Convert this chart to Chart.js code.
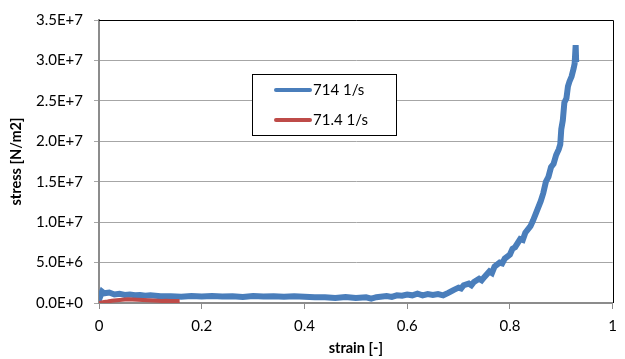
<!DOCTYPE html>
<html>
<head>
<meta charset="utf-8">
<script src="https://cdn.jsdelivr.net/npm/chart.js@4.4.0/dist/chart.umd.min.js"></script>
<style>
  html, body { margin: 0; padding: 0; background: #fff; }
  #wrap { width: 625px; height: 359px; position: relative; }
</style>
</head>
<body>
<div id="wrap"><canvas id="chart"></canvas></div>
<script>
// 714 1/s test
const strainFast = [0, 0.003, 0.006, 0.01, 0.02, 0.03, 0.04, 0.05, 0.06, 0.07, 0.08, 0.09, 0.10,
  0.12, 0.14, 0.16, 0.18, 0.20, 0.22, 0.24, 0.26, 0.28, 0.30, 0.32, 0.34, 0.36, 0.38, 0.40,
  0.42, 0.44, 0.46, 0.48, 0.50, 0.52, 0.53, 0.54, 0.56, 0.57, 0.58, 0.59, 0.60, 0.61, 0.62,
  0.63, 0.64, 0.65, 0.66, 0.67, 0.68, 0.69, 0.70, 0.705, 0.71, 0.72, 0.725, 0.73, 0.74, 0.745,
  0.75, 0.76, 0.765, 0.77, 0.78, 0.785, 0.79, 0.80, 0.805, 0.81, 0.82, 0.825, 0.83, 0.84,
  0.845, 0.85, 0.86, 0.865, 0.87, 0.875, 0.88, 0.885, 0.89, 0.895, 0.898, 0.90, 0.903, 0.906,
  0.91, 0.913, 0.916, 0.92, 0.924, 0.926, 0.928, 0.929];
const stressFast = [1.5e6, 0.9e6, 1.4e6, 1.2e6, 1.3e6, 1.05e6, 1.15e6, 1.0e6, 1.05e6, 0.95e6, 1.0e6, 0.9e6, 0.95e6,
  0.85e6, 0.85e6, 0.78e6, 0.85e6, 0.8e6, 0.85e6, 0.8e6, 0.82e6, 0.75e6, 0.85e6, 0.8e6, 0.82e6, 0.76e6, 0.82e6, 0.78e6,
  0.7e6, 0.72e6, 0.62e6, 0.75e6, 0.62e6, 0.7e6, 0.55e6, 0.72e6, 0.85e6, 0.75e6, 0.95e6, 0.9e6, 1.05e6, 0.95e6, 1.15e6,
  0.95e6, 1.1e6, 1.0e6, 1.1e6, 0.95e6, 1.25e6, 1.6e6, 1.9e6, 1.8e6, 2.2e6, 2.4e6, 2.2e6, 2.6e6, 3.0e6, 2.8e6,
  3.2e6, 3.9e6, 3.7e6, 4.5e6, 5.0e6, 4.9e6, 5.5e6, 6.0e6, 6.7e6, 6.9e6, 7.9e6, 7.8e6, 8.7e6, 9.5e6,
  10.2e6, 11.0e6, 12.6e6, 13.6e6, 15.0e6, 15.6e6, 16.8e6, 17.2e6, 18.3e6, 19.0e6, 19.6e6, 21.5e6, 22.6e6, 24.8e6,
  25.3e6, 26.8e6, 27.4e6, 28.0e6, 29.0e6, 29.6e6, 31.9e6, 29.8e6];

// 71.4 1/s test
const strainSlow = [0, 0.005, 0.01, 0.017, 0.025, 0.035, 0.045, 0.056, 0.065, 0.075, 0.085, 0.095, 0.105, 0.115, 0.122, 0.13, 0.14, 0.15, 0.157];
const stressSlow = [0.0, 0.08e6, 0.12e6, 0.18e6, 0.28e6, 0.35e6, 0.4e6, 0.45e6, 0.42e6, 0.4e6, 0.36e6, 0.33e6, 0.3e6, 0.28e6, 0.25e6, 0.27e6, 0.25e6, 0.24e6, 0.26e6];

const seriesLabels = ['714 1/s', '71.4 1/s'];
const seriesColors = ['#4a7ebb', '#be4b48'];

const xTicks = [0, 0.2, 0.4, 0.6, 0.8, 1];
const yMax = 3.5e7;
const yStep = 5e6;

const toPoints = (xs, ys) => xs.map((x, i) => ({ x: x, y: ys[i] }));

const FONT = 'Lato, "Open Sans", sans-serif';

// black frame on top/right + legend box inside the plot
const frameAndLegend = {
  id: 'frameAndLegend',
  beforeDatasetsDraw(chart) {
    const { ctx, chartArea: a } = chart;
    ctx.save();
    ctx.strokeStyle = '#000';
    ctx.lineWidth = 1;
    ctx.beginPath();
    ctx.moveTo(a.left, Math.round(a.top) + 0.5);
    ctx.lineTo(Math.round(a.right) + 0.5, Math.round(a.top) + 0.5);
    ctx.lineTo(Math.round(a.right) + 0.5, a.bottom);
    ctx.stroke();
    ctx.restore();
  },
  afterDraw(chart) {
    const ctx = chart.ctx;
    const bx = 252, by = 74, bw = 144, bh = 61;
    ctx.save();
    ctx.fillStyle = '#fff';
    ctx.fillRect(bx, by, bw, bh);
    ctx.strokeStyle = '#000';
    ctx.lineWidth = 1;
    ctx.strokeRect(bx + 0.5, by + 0.5, bw, bh);
    ctx.font = '15px ' + FONT;
    ctx.textBaseline = 'middle';
    ctx.lineCap = 'round';
    seriesLabels.forEach((lab, i) => {
      const y = by + 16 + i * 30;
      ctx.strokeStyle = seriesColors[i];
      ctx.lineWidth = 4;
      ctx.beginPath();
      ctx.moveTo(276, y);
      ctx.lineTo(310, y);
      ctx.stroke();
      ctx.fillStyle = '#000';
      ctx.fillText(lab, 313, y);
    });
    ctx.restore();
  }
};

new Chart(document.getElementById('chart'), {
  type: 'scatter',
  data: {
    datasets: [{
      label: seriesLabels[0],
      data: toPoints(strainFast, stressFast),
      showLine: true,
      borderColor: seriesColors[0],
      borderWidth: 6,
      pointRadius: 0,
      order: 1
    }, {
      label: seriesLabels[1],
      data: toPoints(strainSlow, stressSlow),
      showLine: true,
      borderColor: seriesColors[1],
      borderWidth: 4,
      pointRadius: 0,
      order: 0
    }]
  },
  options: {
    responsive: true,
    maintainAspectRatio: false,
    animation: false,
    layout: { padding: { top: 15, right: 10, left: 0, bottom: 0 } },
    plugins: {
      legend: { display: false },
      tooltip: { enabled: false }
    },
    scales: {
      x: {
        type: 'linear',
        min: 0,
        max: 1,
        afterFit(scale) { scale.height = 56; },
        afterBuildTicks(scale) { scale.ticks = xTicks.map(v => ({ value: v })); },
        border: { color: '#8c8c8c', width: 2 },
        grid: { drawOnChartArea: false, drawTicks: true, tickLength: 6, color: '#8c8c8c', lineWidth: 1 },
        ticks: {
          padding: 8,
          color: '#000',
          font: { family: FONT, size: 15 },
          maxRotation: 0,
          callback: v => String(Number(v.toFixed(1)))
        },
        title: {
          display: true,
          text: 'strain [-]',
          color: '#000',
          font: { family: FONT, size: 14.5, weight: 'bold' },
          padding: { top: 0, bottom: 2 }
        }
      },
      y: {
        min: 0,
        max: yMax,
        afterFit(scale) { scale.width = 99; },
        border: { color: '#8c8c8c', width: 2 },
        grid: { color: '#a6a6a6', lineWidth: 1, tickLength: 5 },
        ticks: {
          stepSize: yStep,
          padding: 11,
          color: '#000',
          font: { family: FONT, size: 15 },
          callback: v => v.toExponential(1).replace('e', 'E')
        },
        title: {
          display: true,
          text: 'stress [N/m2]',
          color: '#000',
          font: { family: FONT, size: 14.5, weight: 'bold' },
          padding: { top: 8, bottom: 0 }
        }
      }
    }
  },
  plugins: [frameAndLegend]
});
</script>
</body>
</html>
